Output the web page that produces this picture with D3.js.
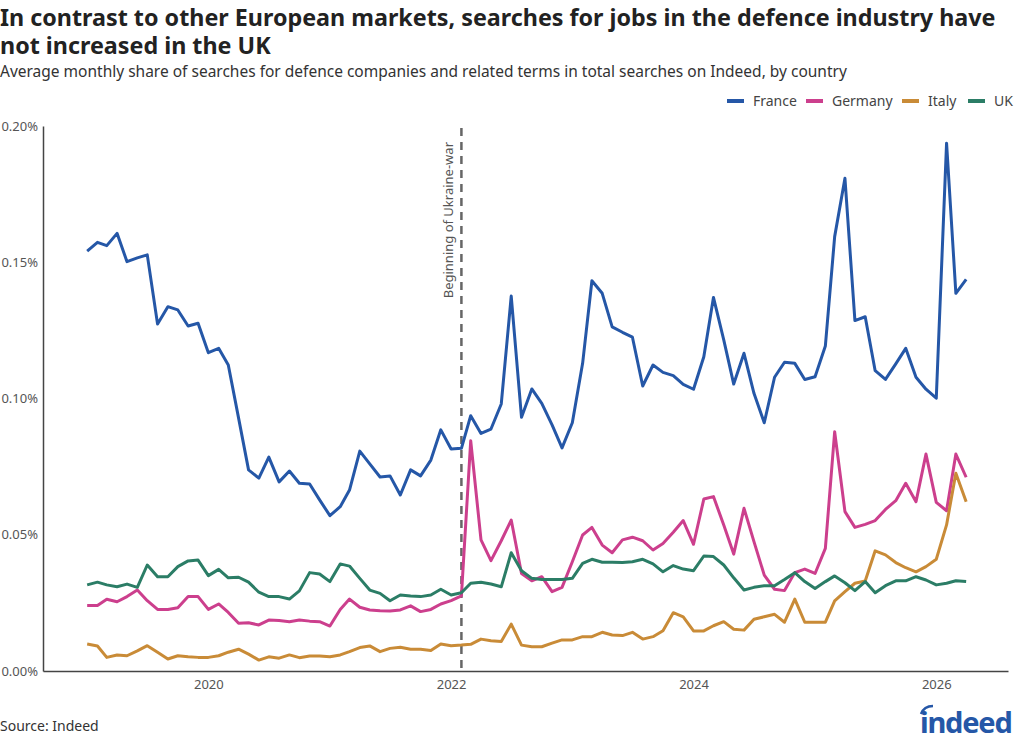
<!DOCTYPE html>
<html>
<head>
<meta charset="utf-8">
<script src="https://cdn.jsdelivr.net/npm/d3@7"></script>
<style>
  body { margin: 0; background: #fff; }
  svg { display: block; font-family: "Noto Sans", sans-serif; }
</style>
</head>
<body>
<div id="chart"></div>
<script>
"use strict";

// monthly share of searches, in percent, Jan 2019 .. Apr 2026
var startMonth = "2019-01";
var countries = ["France", "Germany", "Italy", "UK"];
var colors = ["#2557a7", "#cc3f8d", "#c98b37", "#2b7d66"];

var france = [
  0.1541, 0.1573, 0.1561, 0.1606, 0.1502, 0.1516, 0.1527, 0.1273, 0.1337, 0.1325, 0.1266, 0.1276,
  0.1168, 0.1184, 0.1123, 0.0928, 0.0738, 0.0708, 0.0785, 0.0694, 0.0734, 0.0689, 0.0686, 0.0628,
  0.0570, 0.0603, 0.0664, 0.0807, 0.0760, 0.0712, 0.0716, 0.0646, 0.0738, 0.0716, 0.0774, 0.0885,
  0.0815, 0.0817, 0.0937, 0.0872, 0.0888, 0.0980, 0.1376, 0.0931, 0.1035, 0.0982, 0.0903, 0.0819,
  0.0911, 0.1129, 0.1432, 0.1386, 0.1263, 0.1243, 0.1225, 0.1046, 0.1123, 0.1096, 0.1084, 0.1052,
  0.1034, 0.1153, 0.1371, 0.1215, 0.1053, 0.1166, 0.1019, 0.0911, 0.1078, 0.1133, 0.1129, 0.1070,
  0.1080, 0.1193, 0.1594, 0.1808, 0.1286, 0.1300, 0.1102, 0.1070, 0.1127, 0.1184, 0.1078, 0.1034,
  0.1001, 0.1937, 0.1386, 0.1437
];
var germany = [
  0.0240, 0.0240, 0.0263, 0.0254, 0.0273, 0.0297, 0.0258, 0.0226, 0.0226, 0.0232, 0.0273, 0.0273,
  0.0226, 0.0246, 0.0215, 0.0175, 0.0177, 0.0169, 0.0187, 0.0185, 0.0181, 0.0187, 0.0183, 0.0181,
  0.0165, 0.0226, 0.0264, 0.0234, 0.0224, 0.0221, 0.0220, 0.0224, 0.0239, 0.0218, 0.0226, 0.0246,
  0.0258, 0.0276, 0.0845, 0.0481, 0.0405, 0.0478, 0.0554, 0.0358, 0.0331, 0.0346, 0.0291, 0.0307,
  0.0401, 0.0499, 0.0527, 0.0462, 0.0434, 0.0481, 0.0491, 0.0478, 0.0444, 0.0468, 0.0509, 0.0552,
  0.0465, 0.0631, 0.0640, 0.0536, 0.0429, 0.0597, 0.0475, 0.0352, 0.0300, 0.0295, 0.0361, 0.0374,
  0.0358, 0.0450, 0.0878, 0.0585, 0.0527, 0.0538, 0.0552, 0.0593, 0.0625, 0.0689, 0.0621, 0.0796,
  0.0619, 0.0588, 0.0796, 0.0711
];
var italy = [
  0.0099, 0.0092, 0.0050, 0.0059, 0.0056, 0.0074, 0.0093, 0.0069, 0.0044, 0.0056, 0.0052, 0.0050,
  0.0050, 0.0056, 0.0069, 0.0080, 0.0062, 0.0040, 0.0052, 0.0047, 0.0059, 0.0049, 0.0055, 0.0055,
  0.0052, 0.0059, 0.0071, 0.0086, 0.0092, 0.0071, 0.0083, 0.0087, 0.0080, 0.0080, 0.0075, 0.0099,
  0.0093, 0.0095, 0.0098, 0.0117, 0.0111, 0.0108, 0.0172, 0.0095, 0.0089, 0.0089, 0.0102, 0.0114,
  0.0114, 0.0126, 0.0126, 0.0142, 0.0132, 0.0130, 0.0142, 0.0117, 0.0126, 0.0148, 0.0214, 0.0199,
  0.0147, 0.0147, 0.0166, 0.0181, 0.0153, 0.0150, 0.0190, 0.0199, 0.0208, 0.0179, 0.0264, 0.0179,
  0.0179, 0.0179, 0.0257, 0.0291, 0.0322, 0.0330, 0.0441, 0.0426, 0.0398, 0.0379, 0.0364, 0.0383,
  0.0410, 0.0536, 0.0726, 0.0621
];
var uk = [
  0.0316, 0.0326, 0.0316, 0.0309, 0.0319, 0.0307, 0.0389, 0.0346, 0.0346, 0.0383, 0.0404, 0.0407,
  0.0350, 0.0373, 0.0342, 0.0344, 0.0326, 0.0289, 0.0273, 0.0273, 0.0264, 0.0294, 0.0361, 0.0356,
  0.0328, 0.0393, 0.0385, 0.0340, 0.0297, 0.0285, 0.0258, 0.0279, 0.0275, 0.0273, 0.0279, 0.0300,
  0.0279, 0.0287, 0.0322, 0.0326, 0.0319, 0.0309, 0.0434, 0.0368, 0.0340, 0.0336, 0.0336, 0.0336,
  0.0340, 0.0395, 0.0410, 0.0399, 0.0399, 0.0398, 0.0401, 0.0410, 0.0393, 0.0364, 0.0387, 0.0374,
  0.0368, 0.0422, 0.0420, 0.0389, 0.0342, 0.0297, 0.0307, 0.0313, 0.0313, 0.0336, 0.0361, 0.0328,
  0.0303, 0.0328, 0.0349, 0.0324, 0.0295, 0.0328, 0.0287, 0.0313, 0.0331, 0.0331, 0.0346, 0.0334,
  0.0316, 0.0322, 0.0331, 0.0328
];
var series = [france, germany, italy, uk];

var yTicks = [0, 0.05, 0.10, 0.15, 0.20];
var xTickYears = [2020, 2022, 2024, 2026];
var warDate = "2022-02-01";
var warLabel = "Beginning of Ukraine-war";

var title = ["In contrast to other European markets, searches for jobs in the defence industry have",
  "not increased in the UK"];
var subtitle = "Average monthly share of searches for defence companies and related terms in total searches on Indeed, by country";
var source = "Source: Indeed";

var w = 1024,
  h = 745;
var plotLeft = 43, plotRight = 1008, plotTop = 126, plotBottom = 671;

var parseMonth = d3.timeParse("%Y-%m");
var parseDay = d3.timeParse("%Y-%m-%d");
var months = d3.timeMonth.range(parseMonth(startMonth), d3.timeMonth.offset(parseMonth(startMonth), france.length));

var svg = d3.select("#chart").append("svg").attr("width", w).attr("height", h);

var x = d3.scaleTime()
  .domain([parseDay("2018-08-21"), parseDay("2026-08-05")])
  .range([plotLeft, plotRight]);
var y = d3.scaleLinear().domain([0, 0.2]).range([plotBottom, plotTop]);

// titles
svg.append("text")
  .attr("font-size", 23.3).attr("font-weight", 700).attr("fill", "#222")
  .selectAll("tspan")
  .data(title)
  .join("tspan")
  .attr("x", 0)
  .attr("y", function (d, i) { return 26 + i * 28; })
  .text(function (d) { return d; });

svg.append("text")
  .attr("x", 0).attr("y", 77)
  .attr("font-size", 15.5).attr("fill", "#333")
  .text(subtitle);

// legend
var legend = svg.append("g").attr("font-size", 14).attr("fill", "#444");
var legendX = [727, 806, 902, 968];
countries.forEach(function (c, i) {
  legend.append("line")
    .attr("x1", legendX[i]).attr("x2", legendX[i] + 17)
    .attr("y1", 101).attr("y2", 101)
    .attr("stroke", colors[i]).attr("stroke-width", 4);
  legend.append("text")
    .attr("x", legendX[i] + 26).attr("y", 106)
    .text(c);
});

// axes
var yAxis = svg.append("g")
  .attr("transform", "translate(" + plotLeft + ",0)")
  .call(d3.axisLeft(y).tickValues(yTicks).tickSize(0).tickPadding(5)
    .tickFormat(function (d) { return d3.format(".2f")(d) + "%"; }));
yAxis.select(".domain").attr("stroke", "#444").attr("stroke-width", 1.5);
yAxis.selectAll("text").attr("font-size", 13).attr("fill", "#555").attr("font-family", "Noto Sans");

var xAxis = svg.append("g")
  .attr("transform", "translate(0," + plotBottom + ")")
  .call(d3.axisBottom(x)
    .tickValues(xTickYears.map(function (yr) { return new Date(yr, 0, 1); }))
    .tickSize(0).tickPadding(9)
    .tickFormat(d3.timeFormat("%Y")));
xAxis.select(".domain").attr("stroke", "#444").attr("stroke-width", 1.5);
xAxis.selectAll("text").attr("font-size", 13).attr("fill", "#555").attr("font-family", "Noto Sans");

// war marker
var wx = x(parseDay(warDate));
svg.append("line")
  .attr("x1", wx).attr("x2", wx)
  .attr("y1", plotTop + 2).attr("y2", plotBottom)
  .attr("stroke", "#666").attr("stroke-width", 2.5)
  .attr("stroke-dasharray", "8,6");
svg.append("text")
  .attr("transform", "translate(" + (wx - 8) + "," + (plotTop + 16) + ") rotate(-90)")
  .attr("text-anchor", "end")
  .attr("font-size", 13).attr("fill", "#555")
  .text(warLabel);

// lines
var line = d3.line()
  .x(function (d, i) { return x(months[i]); })
  .y(function (d) { return y(d); });

svg.append("g")
  .selectAll("path")
  .data(series)
  .join("path")
  .attr("d", line)
  .attr("fill", "none")
  .attr("stroke", function (d, i) { return colors[i]; })
  .attr("stroke-width", 3)
  .attr("stroke-linejoin", "round");

// footer
svg.append("text")
  .attr("x", 0).attr("y", 731)
  .attr("font-size", 14).attr("fill", "#333")
  .text(source);

var logo = svg.append("g").attr("transform", "translate(920,733)");
logo.append("text")
  .attr("font-size", 29).attr("font-weight", 700)
  .attr("letter-spacing", -1.2)
  .attr("fill", "#2557a7")
  .text("indeed");
logo.append("path")
  .attr("d", "M1,-19 Q4,-27 13,-27")
  .attr("fill", "none").attr("stroke", "#2557a7").attr("stroke-width", 2.5);
</script>
</body>
</html>
